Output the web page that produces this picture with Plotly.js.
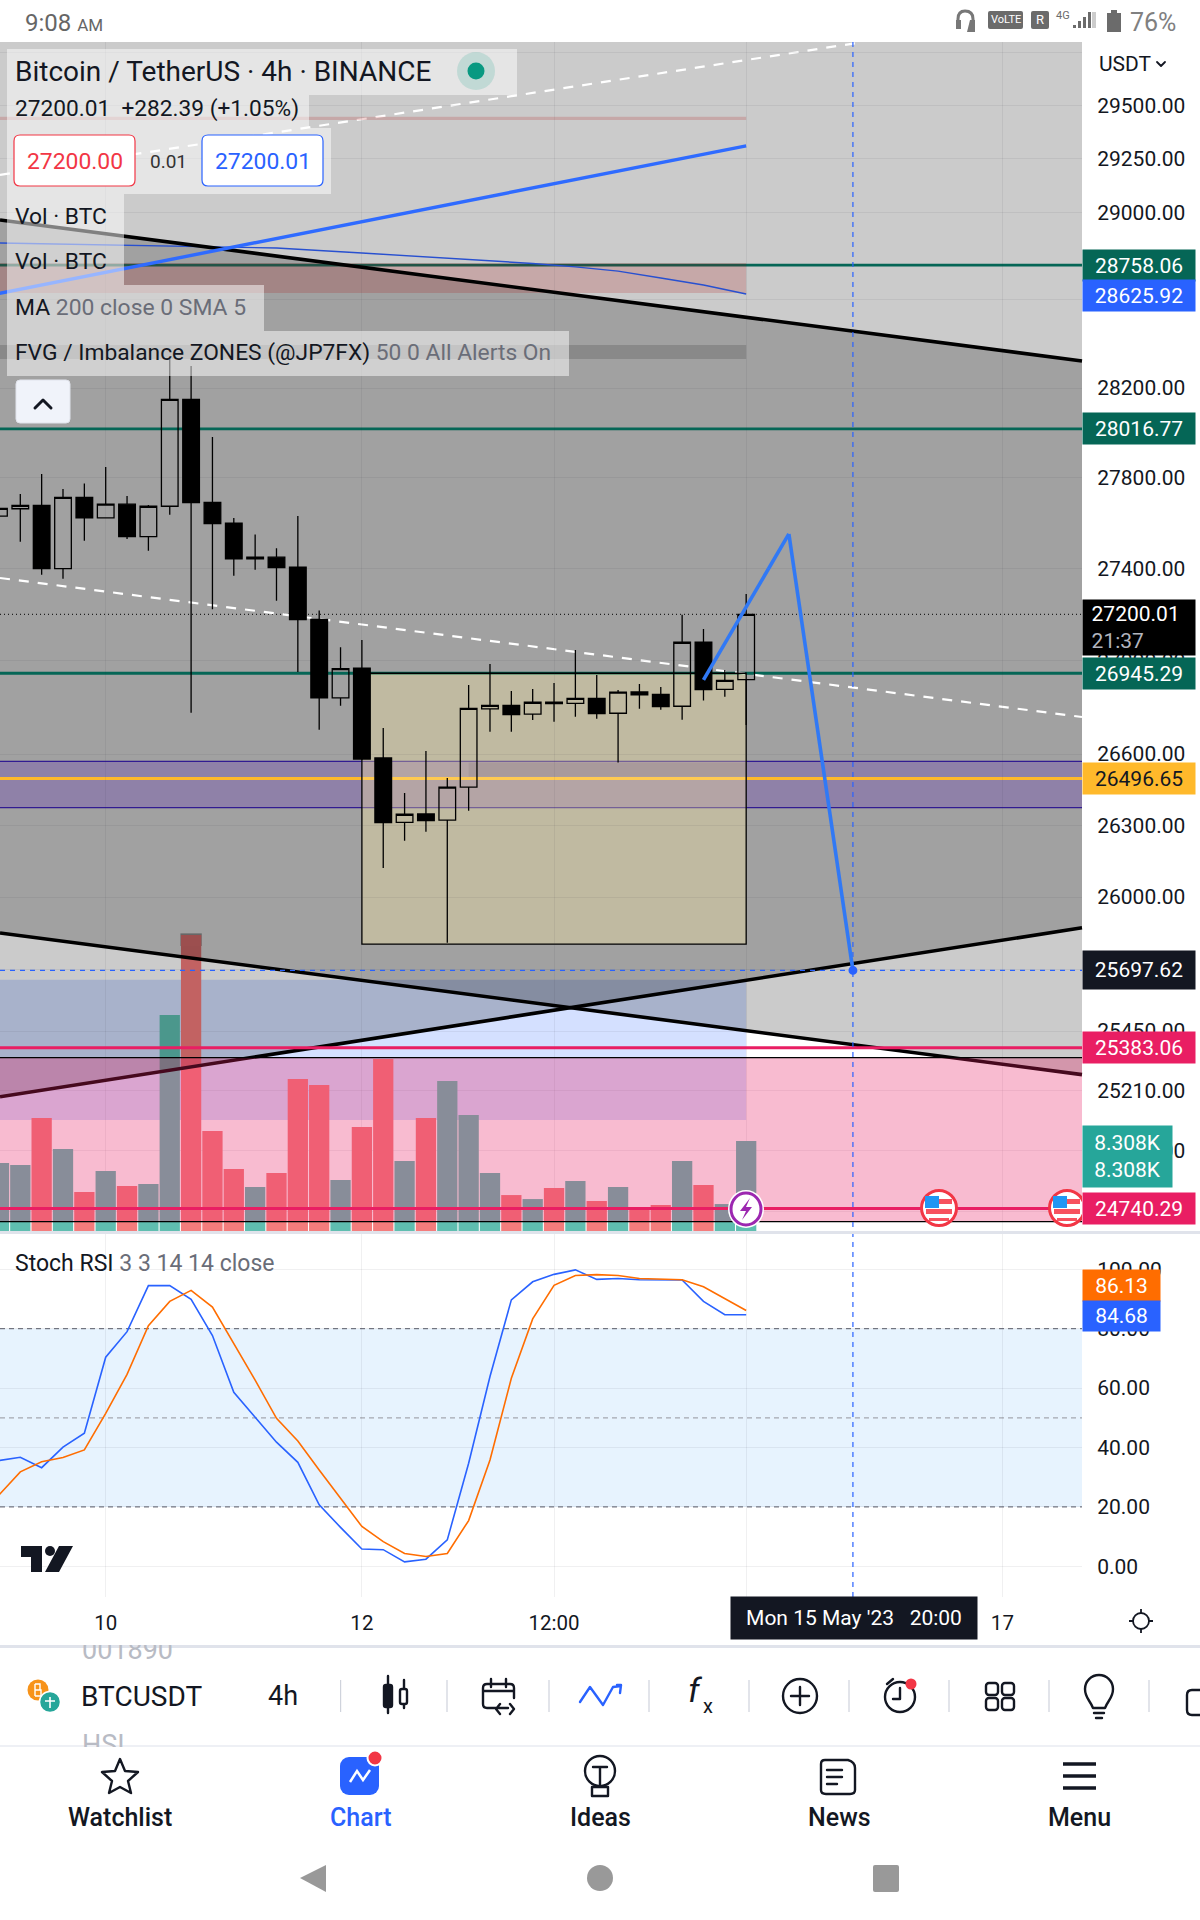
<!DOCTYPE html>
<html><head><meta charset="utf-8">
<script src="https://cdn.plot.ly/plotly-3.0.1.min.js"></script>
<style>html,body{margin:0;padding:0;background:#fff;overflow:hidden}#c{position:absolute;left:0;top:0;width:1200px;height:1920px}#o{position:absolute;left:0;top:0;pointer-events:none}</style>
</head><body><div id="c"></div>
<svg id="o" width="1200" height="1920" viewBox="0 0 1200 1920" fill="none">
<defs><clipPath id="pc"><rect x="0" y="0" width="1082" height="1232"/></clipPath>
<g id="flag"><circle r="17.5" fill="#fff" stroke="#F23645" stroke-width="3"/><path d="M-13-9H13V-4H-13ZM-13 1H13V6H-13ZM-10 10H10V13H-10Z" fill="#F7525F"/><rect x="-14" y="-12" width="14" height="12" fill="#2196F3"/></g></defs>
<rect x="80" y="1633" width="110" height="12" fill="#fff"/><rect x="78" y="1747" width="50" height="10" fill="#fff"/>
<g clip-path="url(#pc)"><use href="#flag" x="939" y="1208"/><use href="#flag" x="1067" y="1208"/></g>
<ellipse cx="746" cy="1209" rx="18" ry="19" fill="#fff"/><ellipse cx="746" cy="1209" rx="15" ry="16" stroke="#9C27B0" stroke-width="3"/><path d="M750 1198L740 1211H746L742 1220L752 1207H746Z" fill="#9C27B0"/>
<g stroke="#131722" stroke-width="1.8"><circle cx="1141" cy="1621" r="8"/><path d="M1141 1609V1613M1141 1629V1633M1129 1621H1133M1149 1621H1153"/></g>
<circle cx="38" cy="1690" r="10.5" fill="#F7931A"/><path d="M35 1684V1696M35 1684H40V1690H35M35 1690H41V1696H35" stroke="#fff" stroke-width="1.4"/>
<circle cx="50" cy="1702" r="10.5" fill="#26A69A" stroke="#fff" stroke-width="1.5"/><path d="M50 1697V1708M45 1701H55" stroke="#fff" stroke-width="1.6"/>
<g stroke="#cfd3dc" stroke-width="1.2"><path d="M340.600 1680V1712M447 1680V1712M549 1680V1712M649 1680V1712M749 1680V1712M849 1680V1712M949 1680V1712M1049 1680V1712M1149 1680V1712"/></g>
<g stroke="#131722" stroke-width="2.400" stroke-linecap="round" stroke-linejoin="round">
<path d="M388 1676V1713M404 1680V1708"/><rect x="384" y="1685" width="8" height="22" rx="2" fill="#131722"/><rect x="400" y="1689" width="7" height="15" rx="2" fill="#fff"/>
<path d="M508 1708H487Q483 1708 483 1704V1688Q483 1684 487 1684H510Q514 1684 514 1688V1698M483 1691H514M491 1679V1687M506 1679V1687M500 1704L496 1709L500 1714M510 1704L514 1709L510 1714"/>
<circle cx="800" cy="1696" r="17"/><path d="M800 1687V1705M791 1696H809"/>
<circle cx="900" cy="1697" r="15"/><path d="M900 1688V1699H893M887 1684L893 1679"/>
<rect x="986" y="1683" width="12" height="12" rx="3"/><rect x="1002" y="1683" width="12" height="12" rx="3"/><rect x="986" y="1698" width="12" height="12" rx="3"/><rect x="1002" y="1698" width="12" height="12" rx="3"/>
<path d="M1093 1708C1090 1700 1085 1698 1085 1689A14 14 0 0 1 1113 1689C1113 1698 1108 1700 1105 1708ZM1094 1713H1104M1096 1718H1102"/>
<path d="M1202 1690H1192Q1187 1690 1187 1695V1710Q1187 1715 1192 1715H1202"/>
<path d="M120 1759L125 1771L138 1772L128 1781L131 1793L120 1787L109 1793L112 1781L102 1772L115 1771Z"/>
<circle cx="600" cy="1771" r="15"/><path d="M593 1767H607M600 1767V1784M592 1787H608V1796H592Z"/>
<path d="M825 1760H848Q855 1762 855 1768V1790Q855 1794 850 1794H826Q821 1794 821 1790V1764Q821 1760 825 1760ZM827 1770H842M827 1777H842M827 1784H837"/>
<path d="M1157 62L1161 66L1165 62" stroke-width="1.8"/>
</g>
<path d="M580 1702L590 1687L603 1705L613 1687L621 1686M617 1685L621 1685L620 1693" stroke="#2962FF" stroke-width="2.400" stroke-linecap="round" stroke-linejoin="round"/>
<circle cx="911" cy="1684" r="5.500" fill="#F23645"/>
<rect x="340" y="1757" width="39" height="38" rx="9" fill="#2962FF"/><path d="M350 1782L357 1771L363 1780L370 1770" stroke="#fff" stroke-width="2.500"/><circle cx="375" cy="1758" r="7.500" fill="#F23645" stroke="#fff" stroke-width="2"/>
<path d="M1063 1764H1096M1063 1776H1096M1063 1788H1096" stroke="#131722" stroke-width="3.500"/>
<path d="M326 1865V1892L300 1878Z" fill="#999"/><circle cx="600" cy="1878" r="13" fill="#999"/><rect x="873" y="1865" width="26" height="27" rx="2" fill="#999"/>
<g stroke="#777" stroke-width="3" stroke-linecap="round"><path d="M958 27V19Q958 11 965 11Q973 11 973 19V27"/></g><path d="M956 20H961V29H956ZM970 20H975V32H967" fill="#777"/>
<path d="M1073 28H1076V25H1073ZM1078 28H1081V21H1078ZM1083 28H1086V17H1083ZM1088 28H1091V12H1088Z" fill="#6b6b6b"/><path d="M1092 28H1096V12H1092Z" fill="#ccc"/>
<path d="M1107 13H1111V10H1117V13H1121V32H1107Z" fill="#6b6b6b"/>
<circle cx="476" cy="71" r="19" fill="#089981" fill-opacity=".16"/><circle cx="476" cy="71" r="8.500" fill="#089981"/>
<path d="M35 408L43 400L51 408" stroke="#131722" stroke-width="3" stroke-linecap="round" stroke-linejoin="round"/>
<path d="M21 1546H42V1572H31V1557H21ZM59 1546H73L59 1572H45Z" fill="#131722"/><circle cx="50" cy="1551" r="5" fill="#131722"/>
</svg>
<script>
// ---- data ----
const times = ['2023-05-09 04:00','2023-05-09 08:00','2023-05-09 12:00','2023-05-09 16:00','2023-05-09 20:00','2023-05-10 00:00','2023-05-10 04:00','2023-05-10 08:00','2023-05-10 12:00','2023-05-10 16:00','2023-05-10 20:00','2023-05-11 00:00','2023-05-11 04:00','2023-05-11 08:00','2023-05-11 12:00','2023-05-11 16:00','2023-05-11 20:00','2023-05-12 00:00','2023-05-12 04:00','2023-05-12 08:00','2023-05-12 12:00','2023-05-12 16:00','2023-05-12 20:00','2023-05-13 00:00','2023-05-13 04:00','2023-05-13 08:00','2023-05-13 12:00','2023-05-13 16:00','2023-05-13 20:00','2023-05-14 00:00','2023-05-14 04:00','2023-05-14 08:00','2023-05-14 12:00','2023-05-14 16:00','2023-05-14 20:00','2023-05-15 00:00'];
const open = [27629,27662,27677,27399,27712,27622,27682,27539,27673,28149,27690,27598,27449,27449,27405,27178,26840,26967,26584,26312,26347,26321,26460,26793,26808,26770,26821,26816,26838,26774,26865,26855,26804,27079,26876,26917.62];
const high = [27670,27727,27816,27749,27774,27847,27718,27678,28334,28299,27980,27621,27549,27488,27630,27217,27057,27089,26711,26436,26613,26499,26895,26985,26869,26878,26904,27045,26938,26873,26899,26886,27198,27136,26959,27288];
const low = [27610,27517,27372,27355,27521,27622,27529,27477,27636,26776,27222,27368,27394,27259,26951,26704,26806,26575,26121,26235,26273,25811,26361,26695,26695,26745,26738,26759,26751,26564,26793,26789,26746,26828,26845,26724];
const close = [27664,27677,27399,27712,27622,27682,27539,27673,28149,27689,27596,27442,27442,27403,27177,26840,26965,26579,26311,26346,26319,26460,26795,26808,26768,26821,26815,26838,26772,26864,26853,26802,27079,26875,26915,27200.01];
const volumeK = [6.28,6.09,10.43,7.57,3.60,5.54,4.15,4.34,19.94,27.32,9.23,5.72,4.06,5.35,14.03,13.48,4.71,9.60,15.88,6.46,10.43,13.85,10.71,5.35,3.32,2.95,3.97,4.62,2.77,4.06,2.22,2.40,6.46,4.25,2.49,8.308];
const volumeUp = [1,1,0,1,0,1,0,1,1,0,0,0,1,0,0,0,1,0,0,1,0,1,1,1,0,1,0,1,0,1,0,0,1,0,1,1];
const stochK = [35.6,36.7,33.2,40.1,44.8,70.4,79.0,94.5,94.5,89.9,77.7,58.6,50.2,41.8,35.0,20.7,13.1,5.8,5.6,1.5,2.4,8.9,34.7,63.9,89.7,95.8,98.3,99.8,96.6,96.9,96.5,96.4,96.4,89.2,84.7,84.68];
const stochD = [24.0,31.8,35.2,36.6,39.2,51.5,64.6,81.0,89.2,92.9,87.3,75.1,62.7,49.8,42.2,32.4,22.9,13.4,8.3,4.3,3.3,4.3,15.4,35.8,63.3,83.3,94.6,97.9,98.2,97.9,96.9,96.7,96.5,94.1,90.0,86.13];
const maTimes = ['2023-05-09 04:00','2023-05-10 00:00','2023-05-10 16:00','2023-05-11 08:00','2023-05-12 00:00','2023-05-12 16:00','2023-05-13 08:00','2023-05-13 16:00','2023-05-14 00:00','2023-05-14 08:00','2023-05-14 16:00','2023-05-15 00:00'];
const maValues = [28860,28851,28844,28837,28814,28791,28766,28750,28731,28699,28667,28625.92];
const priceTicks = [29750,29500,29250,29000,28600,28200,27800,27400,27000,26600,26300,26000,25700,25450,25210,24970,24730];
const priceTickText = ['','29500.00','29250.00','29000.00','28600.00','28200.00','27800.00','27400.00','27000.00','26600.00','26300.00','26000.00','25700.00','25450.00','25210.00','24970.00','24730.00'];
const stochTicks = [100,80,60,40,20,0];
const stochTickText = ['100.00','80.00','60.00','40.00','20.00','0.00'];
const timeTicks = ['2023-05-10','2023-05-12','2023-05-13 12:00','2023-05-15','2023-05-17'];
const timeTickText = ['10','12','12:00','','17'];
const sketchTimes = ['2023-05-14 16:00','2023-05-15 08:00','2023-05-15 20:00'];
const sketchPrices = [26917,27551,25697.62];
const greenLevels = [28758.06,28016.77,26945.29];
const trendUpper = [28966,28321.7];
const trendRise = [25185,25873];
const trendFall = [25851.5,25274];
const dashedRise = [29175,29795.5];
const dashedFall = [27358,26758];
const blueRay = [28629,29311];

// ---- layout geometry ----
const W=1200,H=1920,right=1082,mainTop=42,mainBot=1232,stTop=1234,stBot=1597;
const pxPerDecade=14432.6, anchorPrice=27200.01, anchorY=614.3;
const logTop=Math.log10(anchorPrice)+(anchorY-mainTop)/pxPerDecade;
const logBot=Math.log10(anchorPrice)-(mainBot-anchorY)/pxPerDecade;
const priceTop=Math.pow(10,logTop);
const stPx=2.97, st0=1566.3;
const bar=14400000, t0=Date.UTC(2023,4,9,8);
const xr=[t0-0.951*bar,t0+49.73*bar];
const px=v=>v/W, py=v=>1-v/H;
const lastT=times[times.length-1];
const splitPrice=25798;
const frac=(a,b)=>(Math.log(a)-Math.log(splitPrice))/(Math.log(a)-Math.log(b));

const shapes=[];
const S=(o,layer)=>{o.layer=layer||'above';shapes.push(o);};
const dom=(y0,y1,line,fill,layer,extra)=>S(Object.assign({type:'line',xref:'x domain',yref:'y',x0:0,x1:1,y0:y0,y1:y1,line:line},extra||{}),layer);
const rectT=(t0_,t1_,p0,p1,fill,layer,line)=>S({type:'rect',xref:'x',yref:'y',x0:t0_,x1:t1_,y0:p0,y1:p1,fillcolor:fill,line:line||{width:0}},layer);
const rectD=(p0,p1,fill,layer)=>S({type:'rect',xref:'x domain',yref:'y',x0:0,x1:1,y0:p0,y1:p1,fillcolor:fill,line:{width:0}},layer);
const poly=(pts,fill,layer)=>S({type:'path',xref:'x domain',yref:'y',path:pts.map((p,i)=>(i?'L':'M')+p[0]+' '+p[1]).join(' ')+' Z',fillcolor:fill,line:{width:0}},layer);
const grey='rgba(0,0,0,0.205)';
const first=times[0];

// blue zone under the bars
rectT('2023-05-09 00:00',lastT,25659.6,25091.6,'rgba(41,98,255,0.2)','below');
// grey wedges, upper part under the candles
const fR=frac(trendRise[1],trendRise[0]), fF=frac(trendFall[0],trendFall[1]);
poly([[0,priceTop],[1,priceTop],[1,splitPrice],[fF,splitPrice],[0,trendFall[0]]],grey,'below');
poly([[0,trendUpper[0]],[1,trendUpper[1]],[1,trendRise[1]],[1-fR,splitPrice],[0,splitPrice]],grey,'below');
// zones
rectT('2023-05-09 00:00',lastT,29447,29432,'rgba(180,0,0,0.17)','below');
rectT('2023-05-09 00:00',lastT,28768,28631,'rgba(180,0,0,0.17)','below');
rectT('2023-05-09 00:00',lastT,28394,28331,'rgba(0,0,0,0.15)','below');
rectD(26569,26373.5,'rgba(103,58,183,0.31)','below');
dom(26569,26569,{color:'#311B92',width:1.2},null,'below');
dom(26373.5,26373.5,{color:'#311B92',width:1.2},null,'below');
rectT('2023-05-12 00:00',lastT,26945.29,25806,'rgba(255,236,160,0.33)','below',{color:'#000',width:1.3});
rectT('2023-05-12 20:00',lastT,26564,26504,'rgba(0,0,0,0.06)','below');
greenLevels.forEach(v=>dom(v,v,{color:'#056656',width:2.8},null,'below'));
dom(26496.65,26496.65,{color:'#FFB92B',width:3.2},null,'below');
dom(27200.01,27200.01,{color:'#000',width:1,dash:'1px,3px'},null,'below');
dom(dashedFall[0],dashedFall[1],{color:'#fff',width:2.2,dash:'10px,9px'},null,'below');
S({type:'line',xref:'x domain',yref:'y',x0:0,x1:0.7917,y0:dashedRise[0],y1:dashedRise[1],line:{color:'#fff',width:2.2,dash:'10px,9px'}},'below');

// bars get darkened by the lower part of the wedges and by the pink zone
poly([[fF,splitPrice],[1,splitPrice],[1,trendFall[1]]],grey);
poly([[0,splitPrice],[1-fR,splitPrice],[0,trendRise[0]]],grey);
rectT('2023-05-10 14:00','2023-05-10 18:00',splitPrice,25850,'rgba(0,0,0,0.36)');
// trend lines
dom(trendUpper[0],trendUpper[1],{color:'#000',width:3.6});
dom(trendFall[0],trendFall[1],{color:'#000',width:3.6});
dom(trendRise[0],trendRise[1],{color:'#000',width:3.6});
rectD(25343,24688.5,'rgba(233,30,99,0.3)','above');
dom(25343,25343,{color:'#000',width:1.2});
dom(24688.5,24688.5,{color:'#000',width:1.2});
dom(25383.06,25383.06,{color:'#E91E63',width:3});
dom(24740.29,24740.29,{color:'#E91E63',width:3});
S({type:'line',xref:'x',yref:'y',x0:first,x1:lastT,y0:blueRay[0],y1:blueRay[1],line:{color:'#2F6BFF',width:3.4}});
dom(25697.62,25697.62,{color:'#2962FF',width:1.2,dash:'5px,5px'});
// crosshair through every pane
S({type:'line',xref:'x',yref:'paper',x0:'2023-05-15 20:00',x1:'2023-05-15 20:00',y0:py(stBot),y1:py(mainTop),line:{color:'#2962FF',width:1.2,dash:'5px,5px'}});
for(let i=0;i<2;i++)S({type:'line',xref:'x',yref:'y',x0:sketchTimes[i],x1:sketchTimes[i+1],y0:sketchPrices[i],y1:sketchPrices[i+1],line:{color:'#3179F5',width:3.6}});
S({type:'circle',xref:'x',yref:'y',x0:'2023-05-15 19:10',x1:'2023-05-15 20:50',y0:sketchPrices[2]-18,y1:sketchPrices[2]+18,fillcolor:'#2962FF',line:{width:0}});

// stochastic pane
S({type:'rect',xref:'x domain',yref:'y3',x0:0,x1:1,y0:20,y1:80,fillcolor:'rgba(33,150,243,0.11)',line:{width:0}},'below');
[[80,'#787B86'],[50,'#A5A8B0'],[20,'#787B86']].forEach(a=>S({type:'line',xref:'x domain',yref:'y3',x0:0,x1:1,y0:a[0],y1:a[0],line:{color:a[1],width:1.2,dash:'5px,4px'}},'below'));

// chrome rectangles in page pixels
const box=(x0,y0,x1,y1,fill,line)=>S({type:'rect',xref:'paper',yref:'paper',x0:px(x0),x1:px(x1),y0:py(y1),y1:py(y0),fillcolor:fill,line:line||{width:0}});
const rbox=(x0,y0,x1,y1,r,fill,line)=>{const X=v=>px(v),Y=v=>py(v);
 S({type:'path',xref:'paper',yref:'paper',fillcolor:fill,line:line||{width:0},path:`M${X(x0+r)} ${Y(y0)} L${X(x1-r)} ${Y(y0)} Q${X(x1)} ${Y(y0)} ${X(x1)} ${Y(y0+r)} L${X(x1)} ${Y(y1-r)} Q${X(x1)} ${Y(y1)} ${X(x1-r)} ${Y(y1)} L${X(x0+r)} ${Y(y1)} Q${X(x0)} ${Y(y1)} ${X(x0)} ${Y(y1-r)} L${X(x0)} ${Y(y0+r)} Q${X(x0)} ${Y(y0)} ${X(x0+r)} ${Y(y0)} Z`});};
const leg='rgba(255,255,255,0.5)';
box(7,49,517,95,leg);box(7,95,309,128,leg);box(7,128,331,194,leg);box(7,194,124,240,leg);box(7,240,124,285,leg);box(7,285,264,331,leg);box(7,331,569,376,leg);
rbox(14,135,135,186,6,'#fff',{color:'#F23645',width:1.2});rbox(202,135,323,186,6,'#fff',{color:'#2962FF',width:1.2});
rbox(16,380,70,423,4,'#F0F3FA',{color:'#E0E3EB',width:1});
box(0,1231,W,1234,'#E0E3EB');box(0,1645,W,1648,'#E0E3EB');box(0,1745,W,1747,'#EEF0F5');
rbox(988,11,1023,29,2,'#6b6b6b');rbox(1031,11,1049,29,2,'#6b6b6b');

// ---- text ----
const FF='Roboto';
const ann=[];
const T=(s,x,y,size,color,anchor,extra)=>ann.push(Object.assign({text:s,xref:'paper',yref:'paper',x:px((anchor&&anchor!=='left')?x:x-2.5),y:py(y),xanchor:anchor||'left',yanchor:'middle',showarrow:false,font:{family:FF,size:size,color:color||'#131722'}},extra||{}));
const tagP=(s,price,bg,w,h,fg)=>ann.push({text:s,xref:'paper',yref:'y',x:px(right),y:Math.log10(price),xanchor:'left',yanchor:'middle',showarrow:false,bgcolor:bg,width:w,height:h,borderpad:0,align:'center',valign:'middle',font:{family:FF,size:21,color:fg||'#fff'}});
const tagY=(s,y,bg,w,h,al)=>ann.push({text:s,xref:'paper',yref:'paper',x:px(right),y:py(y),xanchor:'left',yanchor:'middle',showarrow:false,bgcolor:bg,width:w,height:h,borderpad:0,align:al||'center',valign:'middle',font:{family:FF,size:21,color:'#fff'}});
tagP('28758.06',28758.06,'#056656',112,31);
tagY('28625.92',295.5,'#2962FF',112,31);
tagP('28016.77',28016.77,'#056656',112,31);
tagP('26945.29',26945.29,'#056656',112,31);
tagY('&#8201;&#8201;27200.01<br>&#8201;&#8201;<span style="color:#B2B5BE">21:37</span>',627,'#000',112,55,'left');
tagP('26496.65',26496.65,'#FFB92B',112,31,'#131722');
tagP('25697.62',25697.62,'#131722',112,38);
tagP('25383.06',25383.06,'#E91E63',112,31);
tagY('8.308K<br>8.308K',1156.5,'#26A69A',89,61);
tagP('24740.29',24740.29,'#E91E63',112,31);
tagY('86.13',1285,'#FF6D00',77,31);
tagY('84.68',1315.5,'#2962FF',77,30);
ann.push({text:"Mon 15 May '23   20:00",xref:'paper',yref:'paper',x:px(854),y:py(1618),xanchor:'center',yanchor:'middle',showarrow:false,bgcolor:'#131722',width:246,height:42,borderpad:0,font:{family:FF,size:21,color:'#fff'}});

T('Bitcoin / TetherUS · 4h · BINANCE',15,71,28);
T('27200.01  +282.39 (+1.05%)',15,109,22.7);
T('27200.00',74.5,161,22.9,'#F23645','center');
T('0.01',168,161,19,'#333','center');
T('27200.01',262.5,161,22.9,'#2962FF','center');
T('Vol · BTC',15,216,22.8);
T('Vol · BTC',15,261,22.8);
const g=s=>'<span style="color:#6A6D78">'+s+'</span>';
T('MA '+g('200 close 0 SMA 5'),15,307,22.9);
T('FVG / Imbalance ZONES (@JP7FX) '+g('50 0 All Alerts On'),15,352,22.8);
T('Stoch RSI '+g('3 3 14 14 close'),15,1263,23);
T('USDT',1099,64,21);
T('9:08 <span style="font-size:17px">AM</span>',25,23,24,'#666');
T('76%',1130,23,25,'#808080');
T('VoLTE',1005.5,20,11,'#fff','center');
T('R',1040,20,13,'#fff','center');
T('4G',1063,16,11,'#6b6b6b','center');
T('001890',82,1650,27,'#B8BBC4');
T('HSI',82,1745,27,'#B8BBC4');
T('BTCUSDT',81,1696,28,'#131722');
T('4h',268,1696,27,'#131722');
T('<i>f</i>',695,1690,34,'#131722','center');
T('x',708,1706,20,'#131722','center');
[['Watchlist',120,'#131722'],['Chart',360,'#2962FF'],['Ideas',600,'#131722'],['News',839,'#131722'],['Menu',1079,'#131722']].forEach(a=>T(a[0],a[1],1817,25,a[2],'center',{font:{family:FF,size:25,color:a[2],weight:500}}));

// ---- traces ----
const traces=[
 {type:'bar',x:times,y:volumeK,yaxis:'y2',xaxis:'x',marker:{color:volumeUp.map(u=>u?'rgb(95,190,176)':'rgb(244,124,124)'),line:{width:0}},hoverinfo:'skip'},
 {type:'scatter',mode:'lines',x:maTimes,y:maValues,yaxis:'y',line:{color:'#2850D0',width:1.4},hoverinfo:'skip'},
 {type:'candlestick',x:times,open:open,high:high,low:low,close:close,yaxis:'y',xaxis:'x',whiskerwidth:0,
  increasing:{line:{color:'#000',width:1.3},fillcolor:'rgba(0,0,0,0)'},decreasing:{line:{color:'#000',width:1.3},fillcolor:'#000'},hoverinfo:'skip'},
 {type:'scatter',mode:'lines',x:times,y:stochK,yaxis:'y3',line:{color:'#2962FF',width:1.6},hoverinfo:'skip'},
 {type:'scatter',mode:'lines',x:times,y:stochD,yaxis:'y3',line:{color:'#FF6D00',width:1.6},hoverinfo:'skip'}
];
const gridC='rgba(42,46,57,0.07)';
const tickF={family:FF,size:21,color:'#131722'};
const layout={width:W,height:H,margin:{l:0,r:0,t:0,b:0,pad:0},paper_bgcolor:'#fff',plot_bgcolor:'#fff',showlegend:false,dragmode:false,hovermode:false,bargap:0.05,boxgap:0.22,boxgroupgap:0,
 xaxis:{type:'date',domain:[0,right/W],range:xr,anchor:'y3',rangeslider:{visible:false},tickmode:'array',tickvals:timeTicks,ticktext:timeTickText,tickfont:{family:FF,size:20.5,color:'#131722'},ticks:'outside',ticklen:7,tickcolor:'rgba(0,0,0,0)',showgrid:true,gridcolor:gridC,gridwidth:1,zeroline:false,showline:false,fixedrange:true},
 yaxis:{type:'log',domain:[py(mainBot),py(mainTop)],range:[logBot,logTop],side:'right',anchor:'x',tickmode:'array',tickvals:priceTicks,ticktext:priceTickText,tickfont:tickF,ticks:'outside',ticklen:10,tickcolor:'rgba(0,0,0,0)',showgrid:true,gridcolor:gridC,zeroline:false,showline:false,fixedrange:true},
 yaxis2:{overlaying:'y',side:'left',range:[-0.09,109.75],visible:false,fixedrange:true},
 yaxis3:{domain:[py(stBot),py(stTop)],range:[(st0-stBot)/stPx,(st0-stTop)/stPx],side:'right',anchor:'x',tickmode:'array',tickvals:stochTicks,ticktext:stochTickText,tickfont:tickF,ticks:'outside',ticklen:10,tickcolor:'rgba(0,0,0,0)',showgrid:true,gridcolor:gridC,zeroline:false,showline:false,fixedrange:true},
 shapes:shapes,annotations:ann
};
Plotly.newPlot('c',traces,layout,{displayModeBar:false,staticPlot:true});
</script></body></html>
